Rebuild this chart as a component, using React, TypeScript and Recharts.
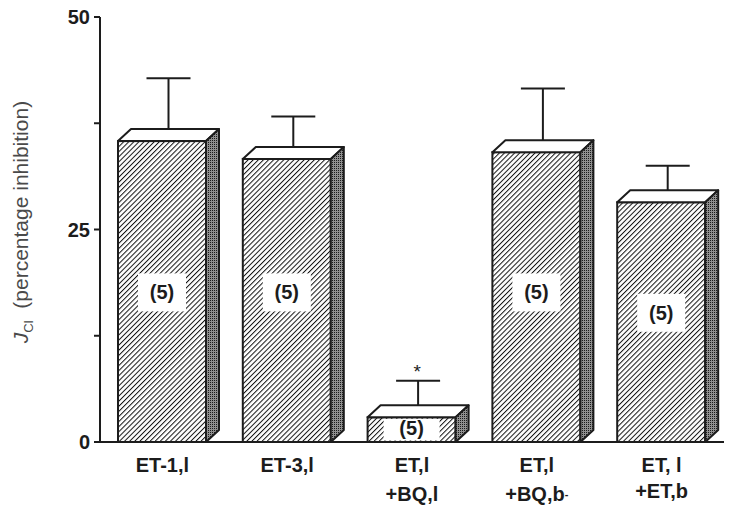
import React from 'react';
import { BarChart, Bar, XAxis, YAxis } from 'recharts';

const categories = ['ET-1,l', 'ET-3,l', 'ET,l', 'ET,l', 'ET, l'];
const secondLine = ['', '', '+BQ,l', '+BQ,b', '+ET,b'];
const inhibition = [35.4, 33.3, 2.9, 34.1, 28.2];
const sem = [7.4, 5.0, 4.3, 7.5, 4.3];
const nObs = [5, 5, 5, 5, 5];
const significant = [false, false, true, false, false];
const nLabelAt = [17.6, 17.6, 1.6, 17.6, 15.2];
const yTicks = [0, 12.5, 25, 37.5, 50];
const yTickLabels: Record<string, string> = { '0': '0', '25': '25', '50': '50' };

const data = categories.map((c, i) => ({
  name: c,
  line2: secondLine[i],
  value: inhibition[i],
  err: sem[i],
  n: nObs[i],
  sig: significant[i],
  labelAt: nLabelAt[i],
}));

const FONT = '"Liberation Sans", Arial, Helvetica, sans-serif';
const INK = '#1c1c1c';
const DX = 13;
const DY = 12;

function Bar3D(props: any) {
  const { x, y, width, height, payload, index } = props;
  if (!payload || height <= 0) return null;
  const k = height / payload.value;
  const cx = x + width / 2;
  const ex = cx + DX / 2;
  const errTop = y - payload.err * k;
  const ly = y + height - payload.labelAt * k;
  const boxW = index === 2 ? 56 : 48;
  const by1 = Math.max(ly - 19, y + 1.5);
  const by2 = Math.min(ly + 19, y + height - 1.5);
  return (
    <g>
      <defs>
        <pattern id="hatch" patternUnits="userSpaceOnUse" width="3.6" height="3.6" patternTransform="rotate(45)">
          <rect width="3.6" height="3.6" fill="#fff" />
          <line x1="0" y1="0" x2="0" y2="3.6" stroke="#111" strokeWidth="2" />
        </pattern>
        <pattern id="dots" patternUnits="userSpaceOnUse" width="2" height="2">
          <rect width="2" height="2" fill="#8f8f8f" />
          <rect width="1" height="1" fill="#1a1a1a" />
        </pattern>
      </defs>
      <line x1={ex} y1={y - DY / 2} x2={ex} y2={errTop} stroke={INK} strokeWidth={2} />
      <line x1={ex - 22} y1={errTop} x2={ex + 22} y2={errTop} stroke={INK} strokeWidth={2} />
      {payload.sig && (
        <text x={ex - 1} y={errTop - 3} textAnchor="middle" fontFamily={FONT} fontSize={19} fill={INK}>*</text>
      )}
      <rect x={x} y={y} width={width} height={height} fill="url(#hatch)" stroke={INK} strokeWidth={2} />
      <polygon
        points={`${x},${y} ${x + DX},${y - DY} ${x + width + DX},${y - DY} ${x + width},${y}`}
        fill="#fff"
        stroke={INK}
        strokeWidth={2}
        strokeLinejoin="round"
      />
      <polygon
        points={`${x + width},${y} ${x + width + DX},${y - DY} ${x + width + DX},${y + height - DY} ${x + width},${y + height}`}
        fill="url(#dots)"
        stroke={INK}
        strokeWidth={2}
        strokeLinejoin="round"
      />
      <rect x={cx - boxW / 2} y={by1} width={boxW} height={by2 - by1} fill="#fff" />
      <text x={cx} y={ly} dy={7} textAnchor="middle" fontFamily={FONT} fontWeight="bold" fontSize={20} fill={INK}>
        ({payload.n})
      </text>
    </g>
  );
}

function XTick(props: any) {
  const { x, y, payload, index } = props;
  const l2 = secondLine[index] || '';
  const gap = l2 === '+ET,b' ? 26 : 29;
  return (
    <g>
      <text x={x} y={y} dy={22} textAnchor="middle" fontFamily={FONT} fontWeight="bold" fontSize={20} fill={INK}>
        {payload.value}
      </text>
      {l2 && (
        <text x={x} y={y} dy={22 + gap} textAnchor="middle" fontFamily={FONT} fontWeight="bold" fontSize={20} fill={INK}>
          {l2}
          {l2 === '+BQ,b' && <tspan fontSize={11} dy={-3}>-</tspan>}
        </text>
      )}
    </g>
  );
}

function YTick(props: any) {
  const { x, y, payload } = props;
  const lab = yTickLabels[String(payload.value)];
  if (!lab) return null;
  return (
    <text x={x} y={y} dy={7} textAnchor="end" fontFamily={FONT} fontWeight="bold" fontSize={20} fill={INK}>
      {lab}
    </text>
  );
}

function YLabel() {
  return (
    <text
      x={28}
      y={222}
      transform="rotate(-90, 28, 222)"
      textAnchor="middle"
      fontFamily={FONT}
      fontSize={21}
      fill="#4a4a4a"
    >
      <tspan fontStyle="italic">J</tspan>
      <tspan fontSize={13} dy={5}>Cl</tspan>
      <tspan dy={-5}>{'\u00a0\u00a0(percentage inhibition)'}</tspan>
    </text>
  );
}

export default function App() {
  return (
    <div style={{ position: 'absolute', left: 0, top: 0, width: 729, height: 506, background: '#fff' }}>
      <BarChart
        width={729}
        height={506}
        data={data}
        margin={{ top: 17, right: 5, bottom: 0, left: 0 }}
        barSize={88}
      >
        <XAxis
          dataKey="name"
          height={64}
          interval={0}
          tickLine={false}
          axisLine={{ stroke: INK, strokeWidth: 2 }}
          tick={<XTick />}
        />
        <YAxis
          width={100}
          domain={[0, 50]}
          ticks={yTicks}
          interval={0}
          tickSize={6}
          tickMargin={4}
          tickLine={{ stroke: INK, strokeWidth: 2 }}
          axisLine={{ stroke: INK, strokeWidth: 2 }}
          tick={<YTick />}
          label={{ content: () => <YLabel /> }}
        />
        <Bar dataKey="value" shape={(p: any) => <Bar3D {...p} />} isAnimationActive={false} />
      </BarChart>
    </div>
  );
}
